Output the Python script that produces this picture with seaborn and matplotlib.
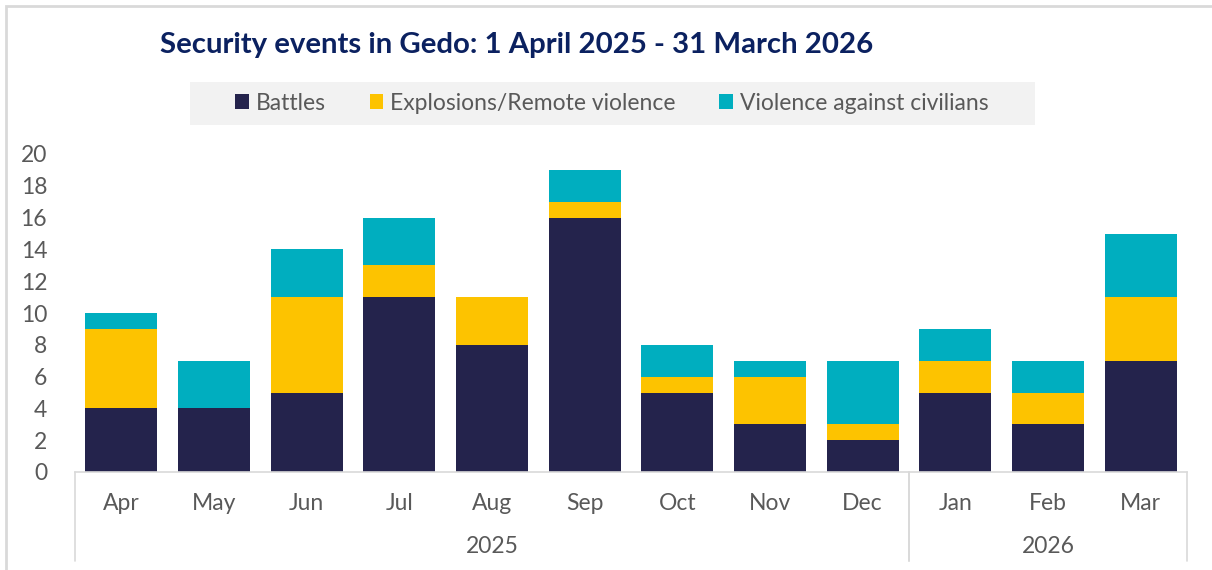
import pandas as pd
import numpy as np
import matplotlib.pyplot as plt
import seaborn as sns
from matplotlib.patches import Patch, Rectangle
import matplotlib.transforms as mtransforms

months = ['Apr', 'May', 'Jun', 'Jul', 'Aug', 'Sep', 'Oct', 'Nov', 'Dec', 'Jan', 'Feb', 'Mar']
years = ['2025'] * 9 + ['2026'] * 3
battles = [4, 4, 5, 11, 8, 16, 5, 3, 2, 5, 3, 7]
explosions = [5, 0, 6, 2, 3, 1, 1, 3, 1, 2, 2, 4]
violence = [1, 3, 3, 3, 0, 2, 2, 1, 4, 2, 2, 4]

series_names = ['Battles', 'Explosions/Remote violence', 'Violence against civilians']
colors = ['#24234c', '#fdc300', '#00aebf']

data = pd.DataFrame({'Month': months, 'Year': years,
                     'Battles': battles, 'Explosions': explosions, 'Violence': violence})
# cumulative heights for stacking (draw tallest first)
data['lvl1'] = data['Battles']
data['lvl2'] = data['lvl1'] + data['Explosions']
data['lvl3'] = data['lvl2'] + data['Violence']

sns.set_style('white')
plt.rcParams['font.family'] = ['Lato', 'DejaVu Sans']
text_col = '#595959'

fig = plt.figure(figsize=(12.12, 5.70), dpi=100)
ax = fig.add_axes([75 / 1212, 1 - 472 / 570, 1112 / 1212, 318 / 570])

for col, c in zip(['lvl3', 'lvl2', 'lvl1'], colors[::-1]):
    sns.barplot(data=data, x='Month', y=col, color=c, width=0.78, linewidth=0,
                saturation=1, ax=ax)

ax.set_ylim(0, 20)
ax.set_xlim(-0.5, len(months) - 0.5)
ax.set_yticks(range(0, 21, 2))
ax.set_xlabel('')
ax.set_ylabel('')
for s in ['top', 'right', 'left']:
    ax.spines[s].set_visible(False)
ax.spines['bottom'].set_color('#d9d9d9')
ax.spines['bottom'].set_linewidth(1.2)
ax.tick_params(axis='y', labelsize=16.5, colors=text_col, length=0, pad=20)
ax.tick_params(axis='x', labelsize=16.5, colors=text_col, length=0, pad=15)

# year level of category axis
trans = mtransforms.blended_transform_factory(ax.transData, ax.transAxes)
groups = data.groupby('Year', sort=False).apply(lambda d: (d.index.min(), d.index.max()), include_groups=False)
for yr, (i0, i1) in groups.items():
    ax.text((i0 + i1) / 2, -0.235, yr, transform=trans, ha='center', va='center',
            fontsize=16.5, color=text_col)
    for b in (i0 - 0.5, i1 + 0.5):
        ax.plot([b, b], [0, -0.28], transform=trans, color='#d9d9d9', lw=1.2, clip_on=False)

fig.text(160 / 1212, 1 - 45 / 570, 'Security events in Gedo: 1 April 2025 - 31 March 2026',
         fontsize=21.2, fontweight='bold', color='#0b2160', ha='left', va='center')

# legend background band
fig.patches.append(Rectangle((190 / 1212, 1 - 125 / 570), 845 / 1212, 43 / 570,
                             transform=fig.transFigure, facecolor='#f2f2f2', edgecolor='none'))
handles = [Patch(facecolor=c, edgecolor='none') for c in colors]
leg = fig.legend(handles, series_names, loc='center', bbox_to_anchor=(612 / 1212, 1 - 103 / 570),
                 ncol=3, frameon=False, fontsize=16.5, handlelength=0.6, handleheight=0.6,
                 handletextpad=0.3, columnspacing=1.9, borderpad=0.3, borderaxespad=0)
for t in leg.get_texts():
    t.set_color(text_col)

fig.patches.append(Rectangle((6 / 1212, -0.1), 1.2, 1 - 6 / 570 + 0.1, transform=fig.transFigure,
                             fill=False, edgecolor='#d9d9d9', lw=2))

plt.savefig('out.png', dpi=100)
